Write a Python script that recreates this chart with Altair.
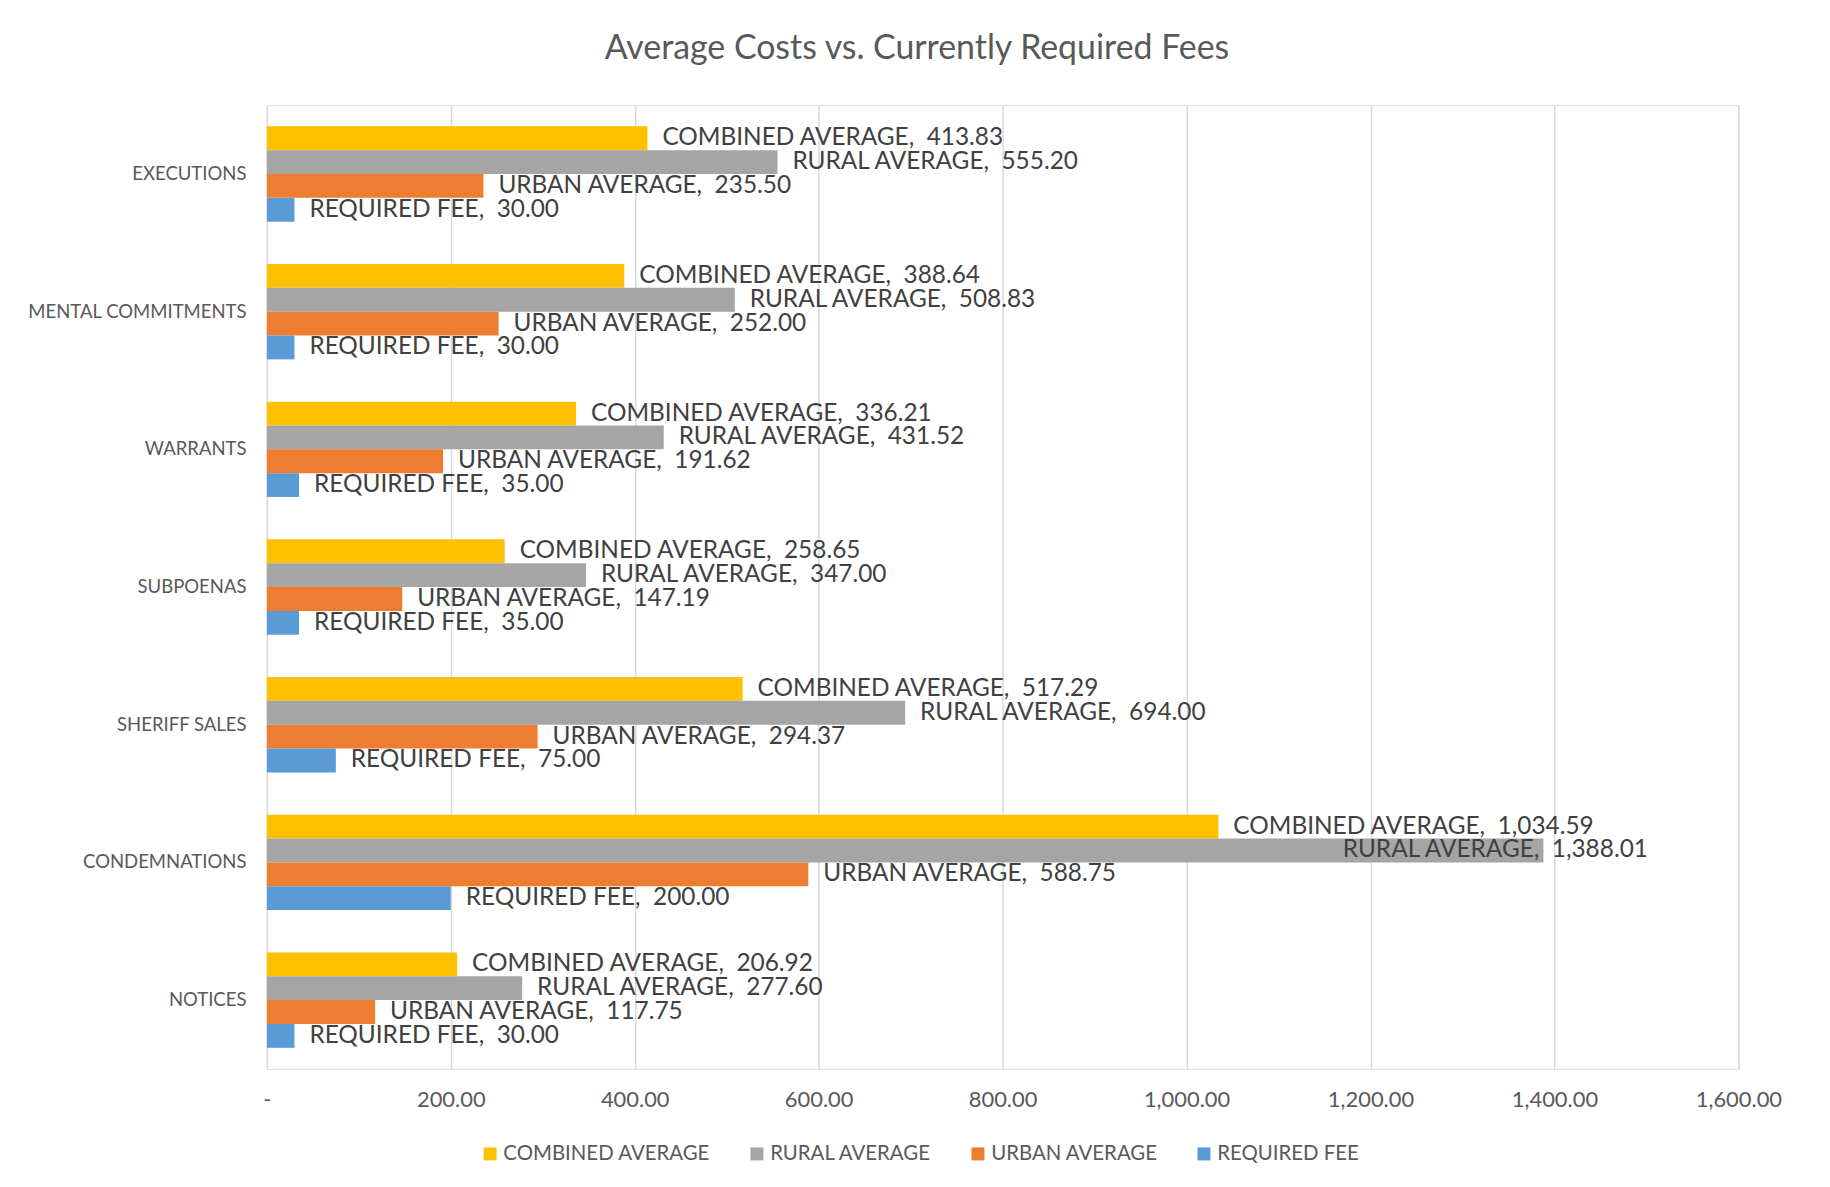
import altair as alt
import pandas as pd

categories = ["EXECUTIONS", "MENTAL COMMITMENTS", "WARRANTS", "SUBPOENAS",
              "SHERIFF SALES", "CONDEMNATIONS", "NOTICES"]
series = ["COMBINED AVERAGE", "RURAL AVERAGE", "URBAN AVERAGE", "REQUIRED FEE"]
combined = [413.83, 388.64, 336.21, 258.65, 517.29, 1034.59, 206.92]
rural = [555.20, 508.83, 431.52, 347.00, 694.00, 1388.01, 277.60]
urban = [235.50, 252.00, 191.62, 147.19, 294.37, 588.75, 117.75]
required = [30.00, 30.00, 35.00, 35.00, 75.00, 200.00, 30.00]
colors = ["#FFC000", "#A5A5A5", "#ED7D31", "#5B9BD5"]
x_ticks = [0, 200, 400, 600, 800, 1000, 1200, 1400, 1600]

rows = []
for s, vals in zip(series, [combined, rural, urban, required]):
    for c, v in zip(categories, vals):
        rows.append({"category": c, "series": s, "value": v})
df = pd.DataFrame(rows)

FONT = "Lato"
W, H = 1478, 968

base = alt.Chart(df).encode(
    y=alt.Y("category:N", sort=categories, title=None,
            scale=alt.Scale(paddingInner=0.307, paddingOuter=0.1535),
            axis=alt.Axis(labelFont=FONT, labelFontSize=18.6, labelColor="#595959",
                          labelPadding=21, labelLimit=0, ticks=False, domain=False,
                          grid=False)),
    yOffset=alt.YOffset("series:N", sort=series,
                        scale=alt.Scale(paddingInner=0, paddingOuter=0)),
)

bars = base.mark_bar().encode(
    x=alt.X("value:Q", title=None,
            scale=alt.Scale(domain=[0, 1600], nice=False),
            axis=alt.Axis(values=x_ticks, grid=True, gridColor="#D9D9D9", gridWidth=1.5,
                          ticks=False, domain=False, labelFont=FONT, labelFontSize=22,
                          labelColor="#595959", labelPadding=21, labelFlush=False,
                          labelLimit=0,
                          labelExpr="datum.value == 0 ? '-\u00a0\u00a0' : format(datum.value, ',.2f')")),
    color=alt.Color("series:N", sort=series,
                    scale=alt.Scale(domain=series, range=colors),
                    legend=alt.Legend(title=None, orient="none", direction="horizontal",
                                      legendX=214, legendY=1043,
                                      symbolType="square", symbolSize=170,
                                      symbolStrokeWidth=0, symbolOpacity=1,
                                      labelFont=FONT, labelFontSize=20.5, labelLimit=0,
                                      labelColor="#595959", labelOffset=3,
                                      columnPadding=36)),
)

labels = base.transform_calculate(
    label="datum.series + ', \u00a0' + format(datum.value, ',.2f')"
)

text_normal = labels.transform_filter("datum.value < 1300").mark_text(
    align="left", baseline="middle", dx=15, font=FONT, fontSize=24.5, color="#404040"
).encode(x="value:Q", text="label:N")

text_shift = labels.transform_filter("datum.value >= 1300").mark_text(
    align="right", baseline="middle", dx=105, font=FONT, fontSize=24.5, color="#404040"
).encode(x="value:Q", text="label:N")

chart = alt.layer(bars, text_normal, text_shift).properties(
    width=W, height=H,
    padding={"left": 260, "top": 95, "right": 84, "bottom": 116},
    autosize=alt.AutoSizeParams(type="none"),
    title=alt.Title("Average Costs vs. Currently Required Fees", font=FONT,
                    fontSize=34, fontWeight="normal", color="#595959",
                    anchor="middle", dx=-86, baseline="alphabetic", offset=12),
).configure_view(stroke=None).configure(background="white")

chart.save("out.html", embed_options={"renderer": "svg", "actions": False})
